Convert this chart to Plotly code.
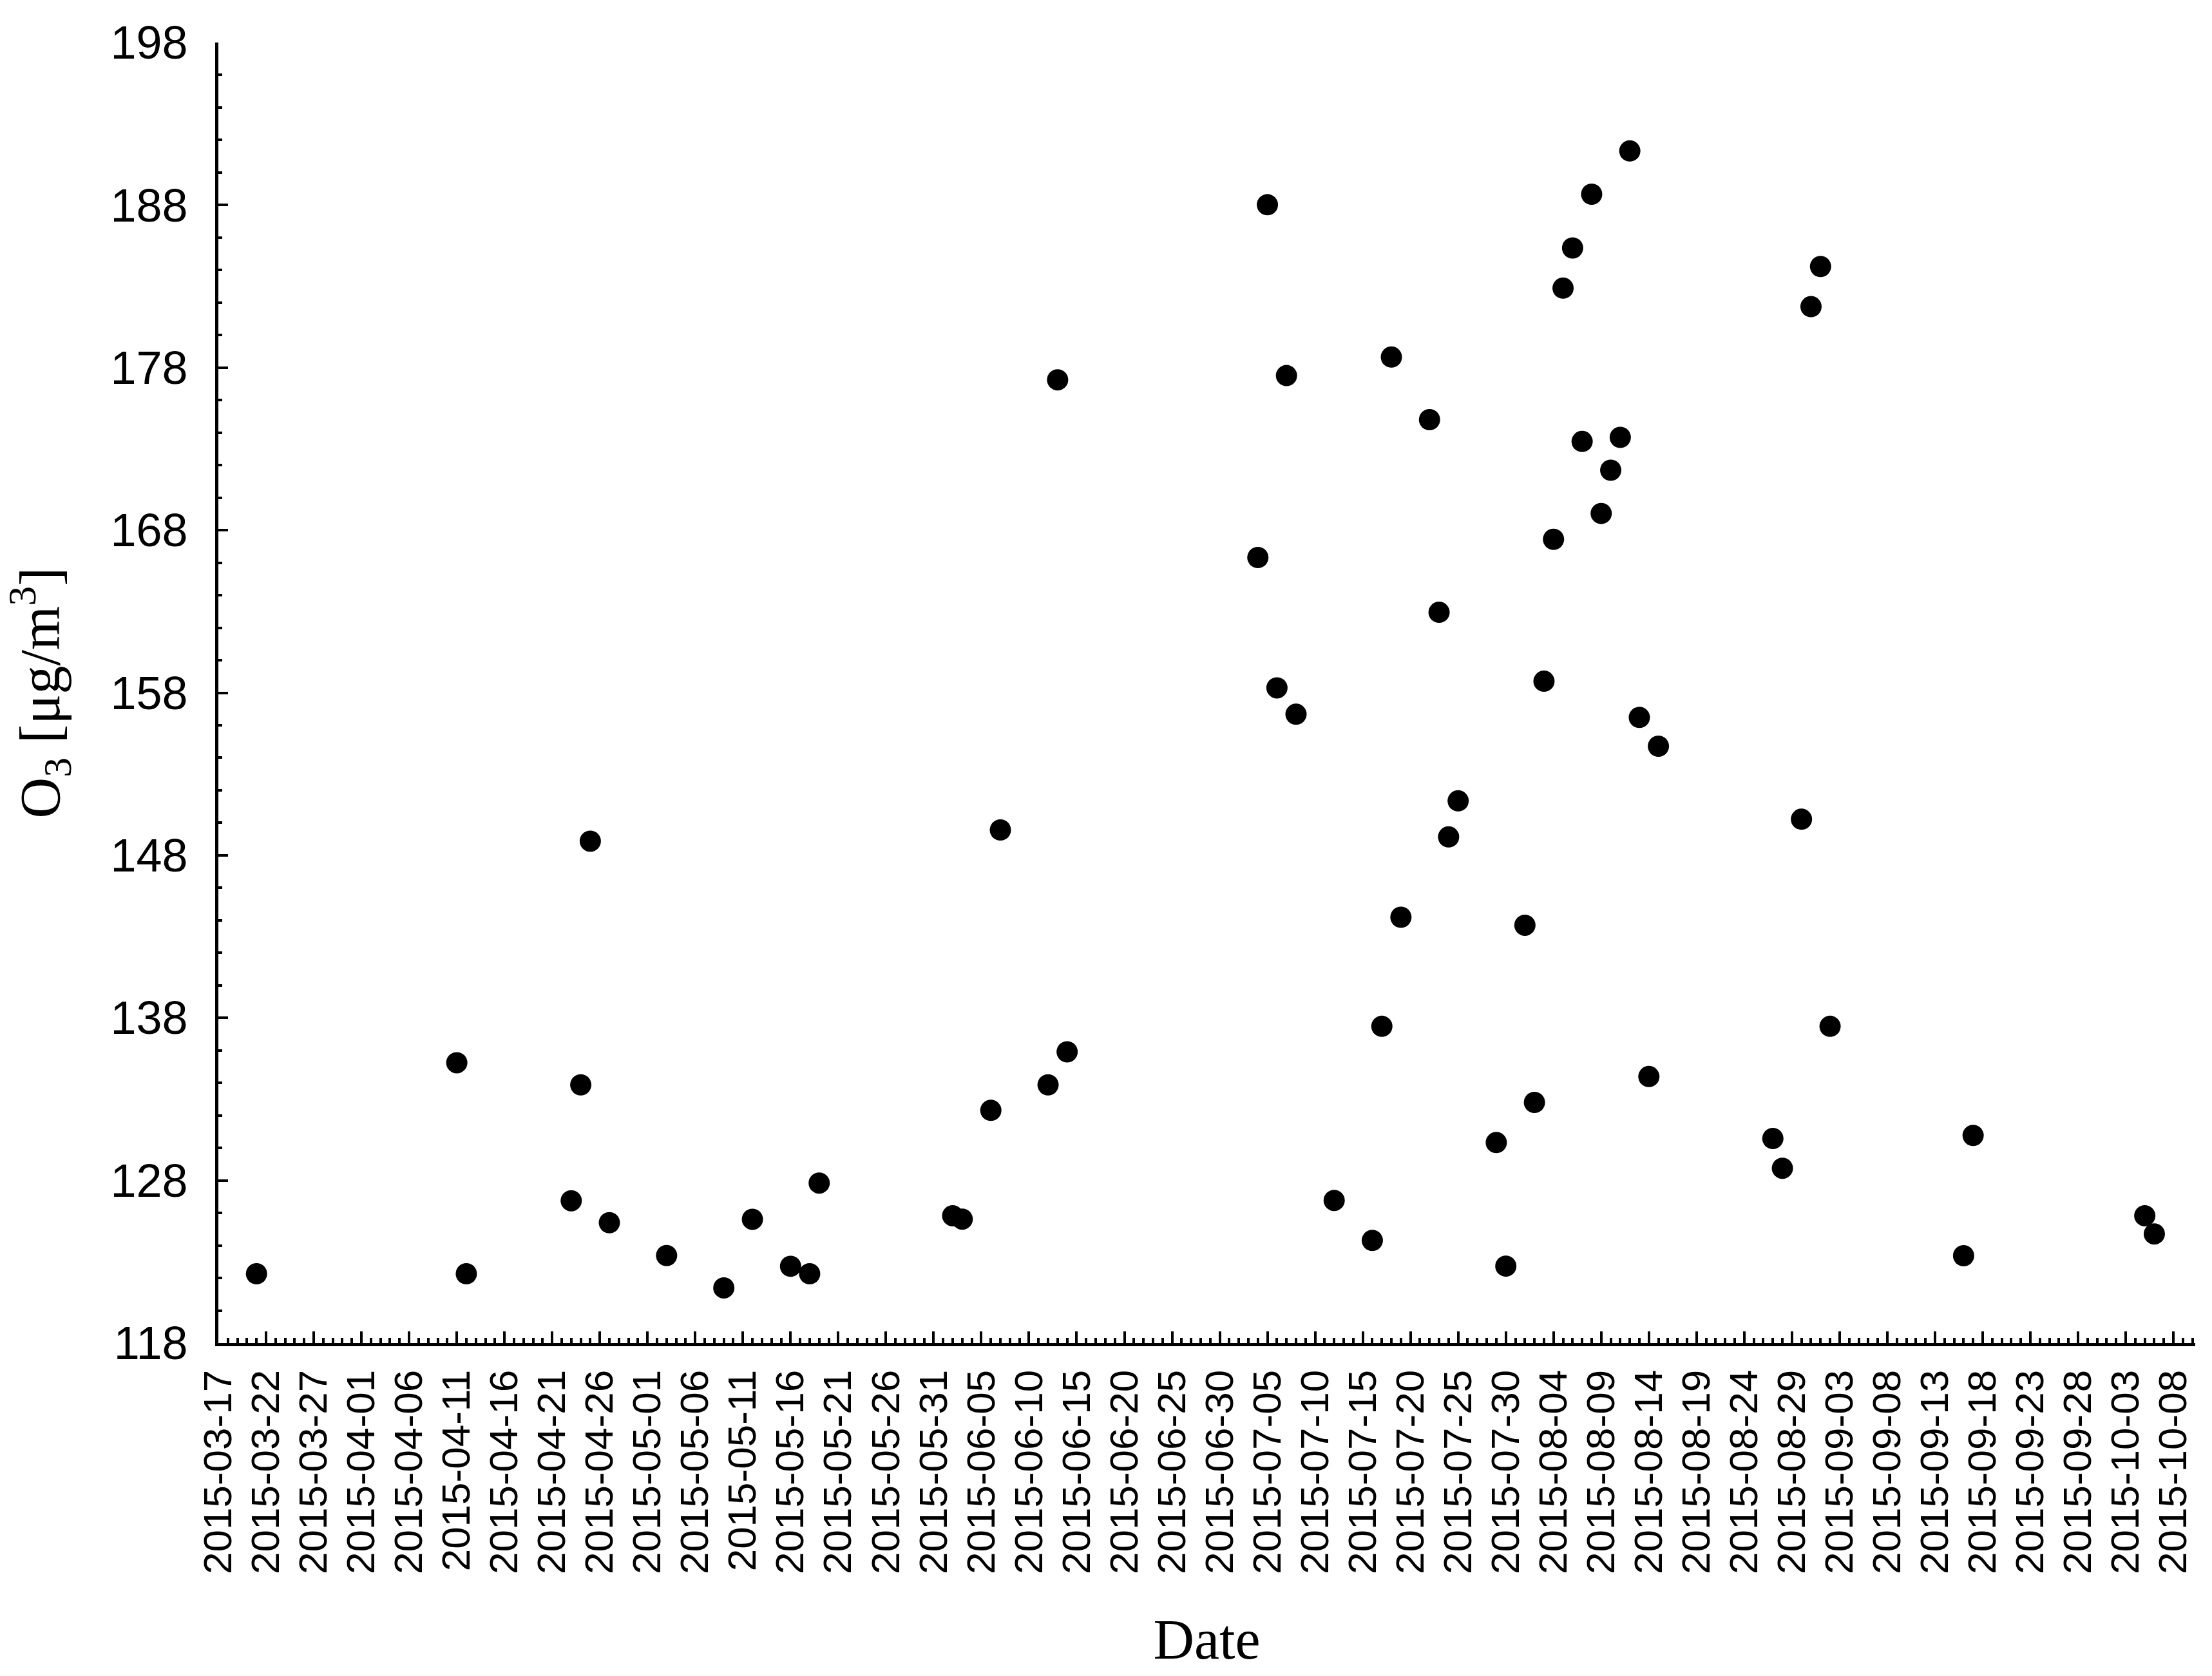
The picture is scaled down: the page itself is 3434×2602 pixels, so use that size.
import plotly.graph_objects as go

dates = [
    "2015-03-21", "2015-04-11", "2015-04-12", "2015-04-23", "2015-04-24", "2015-04-25",
    "2015-04-27", "2015-05-03", "2015-05-09", "2015-05-12", "2015-05-16", "2015-05-18",
    "2015-05-19", "2015-06-02", "2015-06-03", "2015-06-06", "2015-06-07", "2015-06-12",
    "2015-06-13", "2015-06-14", "2015-07-04", "2015-07-05", "2015-07-06", "2015-07-07",
    "2015-07-08", "2015-07-12", "2015-07-16", "2015-07-17", "2015-07-18", "2015-07-19",
    "2015-07-22", "2015-07-23", "2015-07-24", "2015-07-25", "2015-07-29", "2015-07-30",
    "2015-08-01", "2015-08-02", "2015-08-03", "2015-08-04", "2015-08-05", "2015-08-06",
    "2015-08-07", "2015-08-08", "2015-08-09", "2015-08-10", "2015-08-11", "2015-08-12",
    "2015-08-13", "2015-08-14", "2015-08-15", "2015-08-27", "2015-08-28", "2015-08-30",
    "2015-08-31", "2015-09-01", "2015-09-02", "2015-09-16", "2015-09-17", "2015-10-05",
    "2015-10-06",
]
o3 = [
    122.26, 135.24, 122.26, 126.75, 133.88, 148.87,
    125.40, 123.38, 121.39, 125.61, 122.72, 122.26,
    127.84, 125.83, 125.62, 132.31, 149.56, 133.88,
    177.25, 135.91, 166.32, 188.02, 158.30, 177.51,
    156.68, 126.77, 124.31, 137.48, 178.65, 144.19,
    174.80, 162.95, 149.13, 151.35, 130.33, 122.73,
    143.70, 132.80, 158.71, 167.44, 182.89, 185.36,
    173.46, 188.67, 169.03, 171.69, 173.71, 191.33,
    156.48, 134.39, 154.71, 130.58, 128.75, 150.22,
    181.75, 184.22, 137.48, 123.37, 130.77, 125.83,
    124.71,
]

x_range = ["2015-03-17", "2015-10-10 07:00"]
y_range = [118, 198]
x_tick0 = "2015-03-17"
day_ms = 86400000

fig = go.Figure()
fig.add_trace(go.Scatter(
    x=dates, y=o3, mode="markers",
    marker=dict(color="black", size=33, line=dict(width=0)),
    showlegend=False,
))

fig.update_layout(
    width=3434, height=2602,
    paper_bgcolor="white", plot_bgcolor="white",
    margin=dict(l=339, r=26, t=66, b=517, pad=0),
    xaxis=dict(
        type="date", range=x_range,
        tick0=x_tick0, dtick=5 * day_ms, tickformat="%Y-%m-%d",
        tickangle=-90,
        ticks="inside", ticklen=18, tickwidth=4, tickcolor="black",
        minor=dict(dtick=day_ms, tick0=x_tick0, ticks="inside", ticklen=8,
                   tickwidth=4, tickcolor="black", showgrid=False),
        showline=True, linewidth=5, linecolor="black",
        showgrid=False, zeroline=False,
        tickfont=dict(family="Liberation Sans, Arial", size=62, color="black"),
        ticklabelstandoff=12,
        title=dict(text="Date", standoff=72,
                   font=dict(family="Liberation Serif, Times New Roman", size=88, color="black")),
        automargin=False,
    ),
    yaxis=dict(
        range=y_range, tick0=118, dtick=10,
        ticks="inside", ticklen=15, tickwidth=4, tickcolor="black",
        minor=dict(dtick=2, ticks="inside", ticklen=6, tickwidth=4,
                   tickcolor="black", showgrid=False),
        showline=True, linewidth=5, linecolor="black",
        showgrid=False, zeroline=False,
        tickfont=dict(family="Liberation Sans, Arial", size=72, color="black"),
        ticklabelstandoff=28,
        title=dict(text="O<sub>3</sub> [μg/m<sup>3</sup>]", standoff=56,
                   font=dict(family="Liberation Serif, Times New Roman", size=88, color="black")),
        automargin=False,
    ),
)

fig.write_html(
    "out.html",
    config={"displayModeBar": False},
    post_script="document.body.style.margin='0';document.body.style.overflow='hidden';",
)
